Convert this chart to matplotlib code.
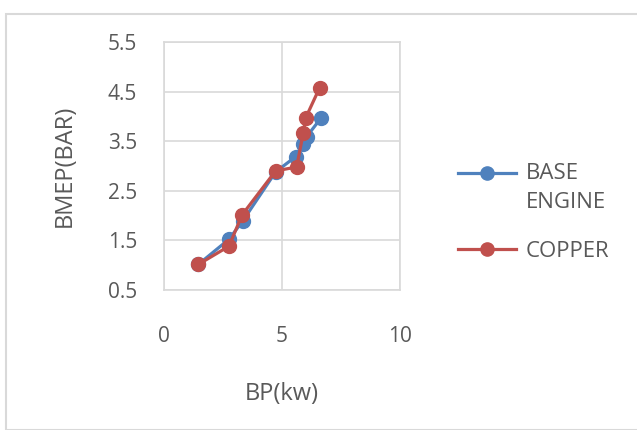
import matplotlib
matplotlib.use("Agg")
import numpy as np
import matplotlib.pyplot as plt
from matplotlib.patches import Rectangle
from matplotlib.legend_handler import HandlerLine2D

plt.rcParams['font.family'] = ['Open Sans', 'DejaVu Sans']

bp_base = [1.47, 2.77, 3.35, 4.74, 5.59, 5.88, 6.05, 6.66]
bmep_base = [1.01, 1.52, 1.89, 2.88, 3.19, 3.44, 3.59, 3.97]
bp_copper = [1.47, 2.77, 3.32, 4.74, 5.63, 5.91, 6.01, 6.60]
bmep_copper = [1.01, 1.38, 2.01, 2.90, 2.98, 3.67, 3.97, 4.58]
labels = ["BASE\nENGINE", "COPPER"]
xticks = [0, 5, 10]
yticks = [0.5, 1.5, 2.5, 3.5, 4.5, 5.5]

W, H = 637, 430
fig = plt.figure(figsize=(W/100, H/100), dpi=100)
ax = fig.add_axes([163.5/W, 1 - 289.7/H, (400 - 163.5)/W, (289.7 - 42.3)/H])

txt = '#595959'
grid = '#D9D9D9'
ax.plot(bp_base, bmep_base, color='#4F81BD', lw=2.3, marker='o', ms=10, label=labels[0], zorder=3)
ax.plot(bp_copper, bmep_copper, color='#C0504D', lw=2.3, marker='o', ms=10, label=labels[1], zorder=4)

ax.set_xlim(0, 10)
ax.set_ylim(0.5, 5.5)
ax.set_xticks(xticks)
ax.set_yticks(yticks)
ax.set_yticklabels([f"{v:.1f}" for v in yticks])
ax.grid(True, color=grid, lw=1.2)
ax.set_axisbelow(True)
for s in ax.spines.values():
    s.set_color(grid)
    s.set_linewidth(1.2)
ax.tick_params(length=0, labelsize=15, colors=txt)
ax.tick_params(axis='y', pad=19)
ax.tick_params(axis='x', pad=26)
ax.set_xlabel("BP(kw)", fontsize=17, color=txt, labelpad=25)
ax.set_ylabel("BMEP(BAR)", fontsize=17, color=txt, labelpad=22)


class HandlerShift(HandlerLine2D):
    def __init__(self, dy=0.0, **kw):
        super().__init__(**kw)
        self.dy = dy

    def create_artists(self, *args, **kwargs):
        arts = super().create_artists(*args, **kwargs)
        for a in arts:
            a.set_ydata(np.asarray(a.get_ydata(), dtype=float) + self.dy)
        return arts


handles, labs = ax.get_legend_handles_labels()
leg = fig.legend(handles, labs, loc='upper left', bbox_to_anchor=(438/W, 1 - 143/H), frameon=False,
                 fontsize=16, labelcolor=txt, handlelength=2.6, handletextpad=0.45,
                 labelspacing=1.25, markerscale=0.95,
                 handler_map={handles[0]: HandlerShift(dy=11.0)})
leg.get_texts()[0].set_linespacing(1.5)

fig.patches.append(Rectangle((6.5/W, 0), 1.2, 1 - 13.5/H, transform=fig.transFigure,
                             fill=False, edgecolor='#D9D9D9', lw=1.5))

fig.savefig("out.png", dpi=100)
